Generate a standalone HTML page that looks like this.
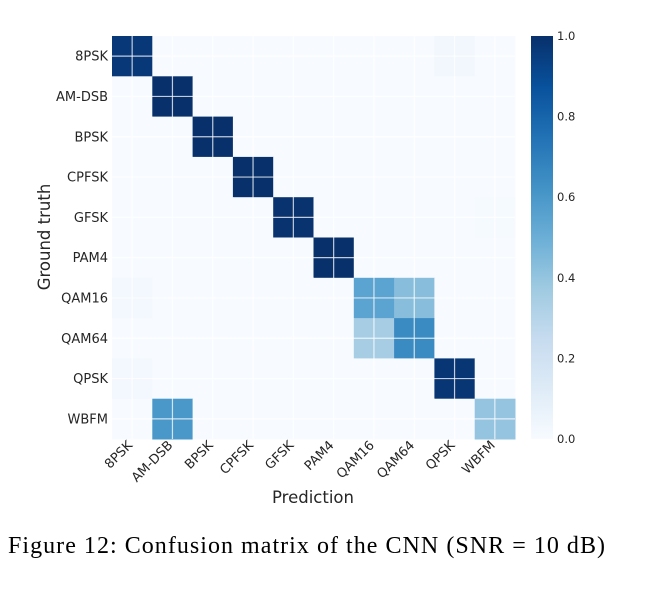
<!DOCTYPE html>
<html><head><meta charset="utf-8"><style>
body{margin:0;background:#fff;width:660px;height:592px;overflow:hidden}
svg{display:block}
text{font-family:"DejaVu Sans","Liberation Sans",sans-serif;fill:#262626}
</style></head><body>
<svg id="chart" width="660" height="592" xmlns="http://www.w3.org/2000/svg">
<defs><linearGradient id="cb" x1="0" y1="1" x2="0" y2="0">
<stop offset="0" stop-color="#f7fbff"/><stop offset="0.125" stop-color="#deebf7"/><stop offset="0.25" stop-color="#c6dbef"/><stop offset="0.375" stop-color="#9ecae1"/><stop offset="0.5" stop-color="#6baed6"/><stop offset="0.625" stop-color="#4292c6"/><stop offset="0.75" stop-color="#2171b5"/><stop offset="0.875" stop-color="#08519c"/><stop offset="1" stop-color="#08306b"/></linearGradient></defs>
<g id="cells"></g><g id="grid"></g><g id="labels"></g>
<rect x="531" y="36" width="22" height="403" fill="url(#cb)"/>
<g id="cbticks"></g>
<text x="313" y="503" font-size="16.5" text-anchor="middle">Prediction</text>
<text transform="translate(50,237) rotate(-90)" font-size="16.5" text-anchor="middle">Ground truth</text>
<text x="8" y="553" font-size="24" textLength="597" lengthAdjust="spacing" style="font-family:'Liberation Serif',serif;fill:#000">Figure 12: Confusion matrix of the CNN (SNR = 10 dB)</text>
</svg>
<script>
const classes=["8PSK","AM-DSB","BPSK","CPFSK","GFSK","PAM4","QAM16","QAM64","QPSK","WBFM"];
const matrix=[
[0.97,0,0,0,0,0,0,0,0.03,0],
[0,1,0,0,0,0,0,0,0,0],
[0,0,1,0,0,0,0,0,0,0],
[0,0,0,1,0,0,0,0,0,0],
[0,0,0,0,0.99,0,0,0,0,0.01],
[0,0,0,0,0,1,0,0,0,0],
[0.02,0,0,0,0,0,0.55,0.43,0,0],
[0,0,0,0,0,0,0.35,0.65,0,0],
[0.02,0,0,0,0,0,0,0,0.98,0],
[0,0.6,0,0,0,0,0,0,0,0.4]];
const cbTicks=["0.0","0.2","0.4","0.6","0.8","1.0"];
const X0=112,Y0=36,S=40.3,N=classes.length;
const stops=[[247,251,255],[222,235,247],[198,219,239],[158,202,225],[107,174,214],[66,146,198],[33,113,181],[8,81,156],[8,48,107]];
function col(v){v=Math.max(0,Math.min(1,v));const p=v*8,i=Math.min(7,Math.floor(p)),t=p-i,a=stops[i],b=stops[i+1];
return `rgb(${a.map((c,k)=>Math.round(c+(b[k]-c)*t)).join(',')})`;}
const xs=c=>X0+c*S, ys=r=>Y0+r*S;
const NS="http://www.w3.org/2000/svg";
const cells=document.getElementById('cells'),grid=document.getElementById('grid'),labels=document.getElementById('labels'),cbt=document.getElementById('cbticks');
matrix.forEach((row,r)=>row.forEach((v,c)=>{const e=document.createElementNS(NS,'rect');
e.setAttribute('x',xs(c));e.setAttribute('y',ys(r));e.setAttribute('width',S+0.5);e.setAttribute('height',S+0.5);e.setAttribute('fill',col(v));


cells.appendChild(e);}));
for(let i=0;i<N;i++){
 const cx=xs(i)+S/2,cy=ys(i)+S/2;
 const v=document.createElementNS(NS,'line');v.setAttribute('x1',cx);v.setAttribute('x2',cx);v.setAttribute('y1',Y0);v.setAttribute('y2',Y0+N*S);v.setAttribute('stroke','rgba(255,255,255,0.75)');v.setAttribute('stroke-width','1.2');
 
 
 grid.appendChild(v);
 const h=document.createElementNS(NS,'line');h.setAttribute('y1',cy);h.setAttribute('y2',cy);h.setAttribute('x1',X0);h.setAttribute('x2',X0+N*S);h.setAttribute('stroke','rgba(255,255,255,0.75)');h.setAttribute('stroke-width','1.2');
 
 
 grid.appendChild(h);
 const yl=document.createElementNS(NS,'text');yl.setAttribute('x',X0-4);yl.setAttribute('y',cy+4.5);yl.setAttribute('text-anchor','end');yl.setAttribute('font-size','13');yl.textContent=classes[i];
 
 
 labels.appendChild(yl);
 const xl=document.createElementNS(NS,'text');xl.setAttribute('transform',`translate(${cx+1},${Y0+N*S+7}) rotate(-45)`);xl.setAttribute('text-anchor','end');xl.setAttribute('font-size','13');xl.textContent=classes[i];
 
 
 labels.appendChild(xl);
}
cbTicks.forEach((t,i)=>{const y=Y0+N*S-(parseFloat(t))*N*S;const e=document.createElementNS(NS,'text');
 e.setAttribute('x',557);e.setAttribute('y',y+4);e.setAttribute('font-size','11.5');e.textContent=t;
 
 
 cbt.appendChild(e);});
</script>
</body></html>
